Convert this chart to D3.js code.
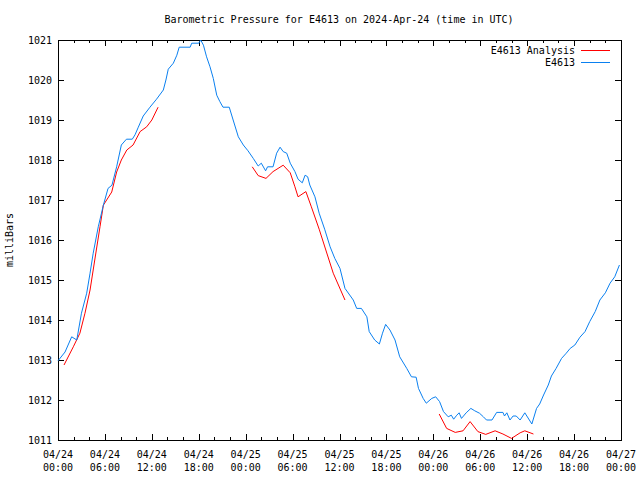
<!DOCTYPE html>
<html>
<head>
<meta charset="utf-8">
<script src="https://cdn.jsdelivr.net/npm/d3@7"></script>
<style>
body { margin: 0; background: #fff; }
text { font-family: "DejaVu Sans Mono", "Liberation Mono", monospace; font-size: 10px; fill: #000; }
</style>
</head>
<body>
<script>
var width = 640,
	height = 480,
	margin = {top: 40, right: 19, bottom: 40, left: 58};

var start = Date.UTC(2024, 3, 24, 0, 0);   // 04/24 00:00 UTC

// E4613 observations: hours after start, pressure (mb)
var obsHours = [0, 0.9, 1.75, 2.4, 3.0, 3.67, 4.1, 4.5, 5.15, 5.8, 6.4, 6.9, 7.5, 8.1, 8.75, 9.5, 9.85, 10.27, 10.9, 11.76,
	12.6, 13.47, 13.8, 14.1, 14.75, 15.2, 15.5, 16.9, 17.1, 18.0, 18.25, 18.6, 19.0, 19.44, 19.86, 20.3, 20.7, 21.1, 21.9, 22.4,
	23.06, 23.7, 24.3, 24.97, 25.6, 26.0, 26.55, 26.8, 27.5, 27.96, 28.4, 28.8, 29.25, 29.7, 30.3, 30.7, 31.24, 31.6, 31.93, 32.2,
	32.86, 33.4, 34.1, 34.8, 35.4, 36.06, 36.7, 37.76, 38.2, 38.8, 39.5, 39.8, 40.5, 41.1, 41.5, 41.9, 42.45, 43.1, 43.7, 44.6,
	45.2, 45.8, 46.1, 46.7, 47.1, 47.8, 48.3, 48.8, 49.3, 49.9, 50.3, 50.6, 51.0, 51.3, 51.6, 52.2, 52.8, 53.3, 53.9, 54.4,
	54.8, 55.5, 56.1, 56.9, 57.1, 57.4, 57.8, 58.2, 58.6, 59.1, 59.7, 60.6, 61.2, 61.6, 62.1, 62.7, 63.1, 63.7, 64.4, 65.0,
	65.5, 66.1, 66.75, 67.4, 68.0, 68.7, 69.3, 70.0, 70.6, 71.2, 71.8];
var obsValues = [1012.98, 1013.2, 1013.58, 1013.5, 1014.17, 1014.67, 1015.17, 1015.67, 1016.33, 1016.87, 1017.29, 1017.37, 1017.83, 1018.375, 1018.52, 1018.52, 1018.63, 1018.82, 1019.1, 1019.32,
	1019.52, 1019.75, 1020.0, 1020.27, 1020.42, 1020.62, 1020.82, 1020.82, 1020.92, 1020.92, 1021.0, 1020.87, 1020.58, 1020.33, 1020.04, 1019.62, 1019.46, 1019.32, 1019.32, 1019.0,
	1018.58, 1018.375, 1018.23, 1018.04, 1017.85, 1017.92, 1017.73, 1017.83, 1017.83, 1018.17, 1018.32, 1018.21, 1018.17, 1017.92, 1017.71, 1017.52, 1017.43, 1017.62, 1017.58, 1017.375,
	1017.08, 1016.67, 1016.27, 1015.83, 1015.54, 1015.29, 1014.79, 1014.5, 1014.29, 1014.29, 1014.08, 1013.71, 1013.5, 1013.4, 1013.67, 1013.89, 1013.75, 1013.5, 1013.08, 1012.79,
	1012.58, 1012.57, 1012.29, 1012.04, 1011.92, 1012.04, 1012.08, 1011.96, 1011.71, 1011.58, 1011.62, 1011.52, 1011.62, 1011.68, 1011.54, 1011.68, 1011.79, 1011.73, 1011.67, 1011.58,
	1011.5, 1011.5, 1011.69, 1011.69, 1011.6, 1011.68, 1011.5, 1011.6, 1011.6, 1011.5, 1011.68, 1011.4, 1011.79, 1011.9, 1012.125, 1012.375, 1012.6, 1012.79, 1013.04, 1013.17,
	1013.29, 1013.375, 1013.57, 1013.71, 1013.96, 1014.21, 1014.5, 1014.68, 1014.92, 1015.08, 1015.375];

// E4613 Analysis: three runs, null marks a gap
var anaHours = [0.77, 1.96, 2.8, 3.45, 4.1, 4.7, 5.37, 5.8, 6.87, 7.5, 8.1, 8.8, 9.6, 10.5, 11.34, 12.0, 12.8, 18,
	24.84, 25.6, 26.6, 27.5, 28.8, 29.7, 30.3, 30.7, 31.7, 32.4, 33.4, 35.2, 36.7, 42,
	48.75, 49.7, 50.8, 51.8, 52.7, 53.7, 54.7, 55.9, 56.9, 58.0, 59.1, 59.7, 60.8];
var anaValues = [1012.875, 1013.33, 1013.67, 1014.17, 1014.75, 1015.5, 1016.33, 1016.87, 1017.2, 1017.7, 1018.0, 1018.25, 1018.375, 1018.71, 1018.83, 1019.0, 1019.32, null,
	1017.83, 1017.61, 1017.54, 1017.71, 1017.87, 1017.68, 1017.33, 1017.08, 1017.21, 1016.83, 1016.27, 1015.17, 1014.5, null,
	1011.65, 1011.29, 1011.19, 1011.23, 1011.46, 1011.21, 1011.14, 1011.23, 1011.15, 1011.04, 1011.18, 1011.23, 1011.15];

var yTicks = [1011, 1012, 1013, 1014, 1015, 1016, 1017, 1018, 1019, 1020, 1021];
var seriesNames = ["E4613 Analysis", "E4613"],
	seriesColors = ["#ff0000", "#0a80f0"];

var hour = 3600 * 1000;
var toDate = function (h) { return new Date(start + h * hour); };

var svg = d3.select("body")
		.append("svg")
		.attr("width", width)
		.attr("height", height);

var x = d3.scaleUtc()
	.domain([toDate(0), toDate(72)])
	.range([margin.left, width - margin.right]);
var y = d3.scaleLinear()
	.domain([1011, 1021])
	.range([height - margin.bottom, margin.top]);

var x0 = margin.left, x1 = width - margin.right,
	y0 = height - margin.bottom, y1 = margin.top;

var majors = d3.utcHour.every(6).range(toDate(0), toDate(72.01)),
	minors = d3.utcHour.every(2).range(toDate(0), toDate(72.01));

var ticks = svg.append("g").attr("stroke", "#000").attr("shape-rendering", "crispEdges");

// x ticks, inward, on bottom and top
minors.forEach(function (d) {
	var len = d.getUTCHours() % 6 === 0 ? 6 : 3;
	var px = Math.round(x(d)) + 0.5;
	ticks.append("line").attr("x1", px).attr("x2", px).attr("y1", y0).attr("y2", y0 - len);
	ticks.append("line").attr("x1", px).attr("x2", px).attr("y1", y1).attr("y2", y1 + len);
});
// y ticks, inward, on left and right
yTicks.forEach(function (v) {
	var py = Math.round(y(v)) + 0.5;
	ticks.append("line").attr("x1", x0).attr("x2", x0 + 6).attr("y1", py).attr("y2", py);
	ticks.append("line").attr("x1", x1).attr("x2", x1 - 6).attr("y1", py).attr("y2", py);
});

svg.append("rect")
	.attr("x", x0 + 0.5).attr("y", y1 + 0.5)
	.attr("width", x1 - x0).attr("height", y0 - y1)
	.attr("fill", "none").attr("stroke", "#000")
	.attr("shape-rendering", "crispEdges");

// tick labels
var fmtDay = d3.utcFormat("%m/%d"), fmtTime = d3.utcFormat("%H:%M");
majors.forEach(function (d) {
	var t = svg.append("text").attr("text-anchor", "middle").attr("x", x(d));
	t.append("tspan").attr("x", x(d)).attr("y", y0 + 18).text(fmtDay(d));
	t.append("tspan").attr("x", x(d)).attr("y", y0 + 31).text(fmtTime(d));
});
yTicks.forEach(function (v) {
	svg.append("text")
		.attr("x", x0 - 6).attr("y", y(v) + 4)
		.attr("text-anchor", "end")
		.text(v);
});

svg.append("text")
	.attr("x", 339).attr("y", 23)
	.attr("text-anchor", "middle")
	.text("Barometric Pressure for E4613 on 2024-Apr-24 (time in UTC)");

svg.append("text")
	.attr("transform", "translate(13,240) rotate(-90)")
	.attr("text-anchor", "middle")
	.text("milliBars");

var line = d3.line()
	.defined(function (d) { return d[1] !== null; })
	.x(function (d) { return x(toDate(d[0])); })
	.y(function (d) { return y(d[1]); });

svg.append("path")
	.datum(anaHours.map(function (h, i) { return [h, anaValues[i]]; }))
	.attr("d", line)
	.attr("fill", "none")
	.attr("stroke", seriesColors[0])
	.attr("stroke-width", 1);

svg.append("path")
	.datum(obsHours.map(function (h, i) { return [h, obsValues[i]]; }))
	.attr("d", line)
	.attr("fill", "none")
	.attr("stroke", seriesColors[1])
	.attr("stroke-width", 1);

// legend
seriesNames.forEach(function (name, i) {
	var ly = 50 + i * 12;
	svg.append("text")
		.attr("x", 575).attr("y", ly + 4)
		.attr("text-anchor", "end")
		.text(name);
	svg.append("line")
		.attr("x1", 581).attr("x2", 610)
		.attr("y1", ly + 0.5).attr("y2", ly + 0.5)
		.attr("stroke", seriesColors[i])
		.attr("shape-rendering", "crispEdges");
});
</script>
</body>
</html>
